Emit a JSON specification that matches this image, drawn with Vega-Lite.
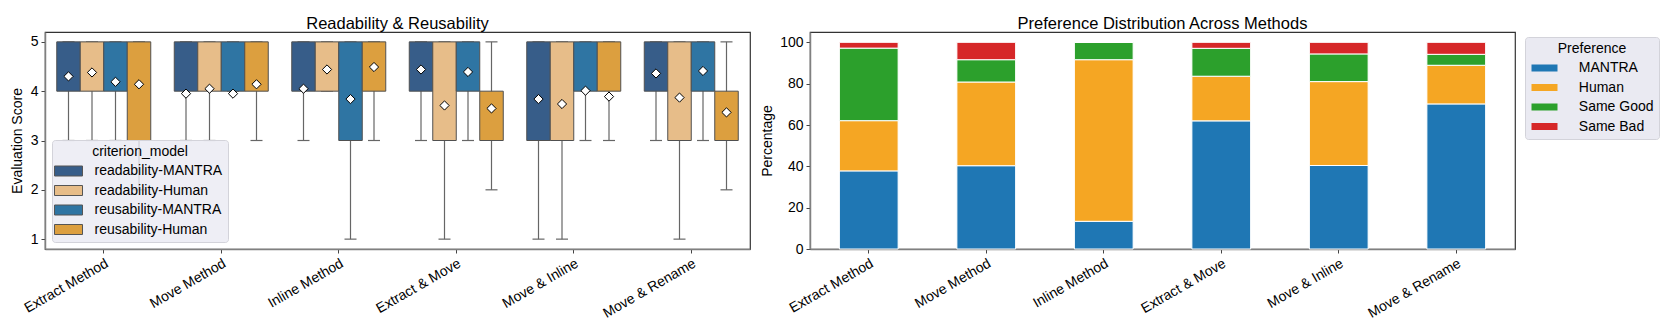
{
  "$schema": "https://vega.github.io/schema/vega-lite/v6.json",
  "padding": {"left": 9, "top": 15, "right": 0, "bottom": 0},
  "spacing": 9,
  "resolve": {"scale": {"color": "independent"}, "legend": {"color": "independent"}},
  "config": {
    "font": "Liberation Sans",
    "view": {"stroke": "#333333", "strokeWidth": 1.2},
    "axis": {
      "labelFontSize": 14, "titleFontSize": 14, "labelColor": "black", "titleColor": "black",
      "titleFontWeight": "normal", "domainColor": "#808080", "domainWidth": 1.5,
      "tickColor": "#444444", "tickSize": 4, "grid": false, "labelPadding": 3, "titlePadding": 6
    },
    "title": {"fontSize": 16.5, "fontWeight": "normal", "offset": -0.5, "color": "black"},
    "legend": {
      "titleFontSize": 14, "labelFontSize": 14, "titleFontWeight": "normal", "titleColor": "black",
      "labelColor": "black", "titleAnchor": "middle", "padding": 5, "cornerRadius": 3,
      "strokeColor": "#d3d3da", "rowPadding": 5.5
    }
  },
  "datasets": {
    "boxes": [
      {"method": "Extract Method", "group": "readability-MANTRA", "lower": 3, "q1": 4, "q3": 5, "upper": 5, "mean": 4.30},
      {"method": "Extract Method", "group": "readability-Human", "lower": 3, "q1": 4, "q3": 5, "upper": 5, "mean": 4.38},
      {"method": "Extract Method", "group": "reusability-MANTRA", "lower": 3, "q1": 4, "q3": 5, "upper": 5, "mean": 4.19},
      {"method": "Extract Method", "group": "reusability-Human", "lower": 2, "q1": 3, "q3": 5, "upper": 5, "mean": 4.14},
      {"method": "Move Method", "group": "readability-MANTRA", "lower": 3, "q1": 4, "q3": 5, "upper": 5, "mean": 3.95},
      {"method": "Move Method", "group": "readability-Human", "lower": 3, "q1": 4, "q3": 5, "upper": 5, "mean": 4.05},
      {"method": "Move Method", "group": "reusability-MANTRA", "lower": 4, "q1": 4, "q3": 5, "upper": 5, "mean": 3.95},
      {"method": "Move Method", "group": "reusability-Human", "lower": 3, "q1": 4, "q3": 5, "upper": 5, "mean": 4.14},
      {"method": "Inline Method", "group": "readability-MANTRA", "lower": 3, "q1": 4, "q3": 5, "upper": 5, "mean": 4.05},
      {"method": "Inline Method", "group": "readability-Human", "lower": 4, "q1": 4, "q3": 5, "upper": 5, "mean": 4.44},
      {"method": "Inline Method", "group": "reusability-MANTRA", "lower": 1, "q1": 3, "q3": 5, "upper": 5, "mean": 3.84},
      {"method": "Inline Method", "group": "reusability-Human", "lower": 3, "q1": 4, "q3": 5, "upper": 5, "mean": 4.49},
      {"method": "Extract & Move", "group": "readability-MANTRA", "lower": 3, "q1": 4, "q3": 5, "upper": 5, "mean": 4.44},
      {"method": "Extract & Move", "group": "readability-Human", "lower": 1, "q1": 3, "q3": 5, "upper": 5, "mean": 3.71},
      {"method": "Extract & Move", "group": "reusability-MANTRA", "lower": 3, "q1": 4, "q3": 5, "upper": 5, "mean": 4.39},
      {"method": "Extract & Move", "group": "reusability-Human", "lower": 2, "q1": 3, "q3": 4, "upper": 5, "mean": 3.65},
      {"method": "Move & Inline", "group": "readability-MANTRA", "lower": 1, "q1": 3, "q3": 5, "upper": 5, "mean": 3.84},
      {"method": "Move & Inline", "group": "readability-Human", "lower": 1, "q1": 3, "q3": 5, "upper": 5, "mean": 3.74},
      {"method": "Move & Inline", "group": "reusability-MANTRA", "lower": 3, "q1": 4, "q3": 5, "upper": 5, "mean": 4.01},
      {"method": "Move & Inline", "group": "reusability-Human", "lower": 3, "q1": 4, "q3": 5, "upper": 5, "mean": 3.89},
      {"method": "Move & Rename", "group": "readability-MANTRA", "lower": 3, "q1": 4, "q3": 5, "upper": 5, "mean": 4.36},
      {"method": "Move & Rename", "group": "readability-Human", "lower": 1, "q1": 3, "q3": 5, "upper": 5, "mean": 3.87},
      {"method": "Move & Rename", "group": "reusability-MANTRA", "lower": 3, "q1": 4, "q3": 5, "upper": 5, "mean": 4.41},
      {"method": "Move & Rename", "group": "reusability-Human", "lower": 2, "q1": 3, "q3": 4, "upper": 5, "mean": 3.57}
    ],
    "prefs": [
      {"method": "Extract Method", "pref": "MANTRA", "pct": 37.8},
      {"method": "Extract Method", "pref": "Human", "pct": 24.3},
      {"method": "Extract Method", "pref": "Same Good", "pct": 35.1},
      {"method": "Extract Method", "pref": "Same Bad", "pct": 2.8},
      {"method": "Move Method", "pref": "MANTRA", "pct": 40.3},
      {"method": "Move Method", "pref": "Human", "pct": 40.5},
      {"method": "Move Method", "pref": "Same Good", "pct": 10.8},
      {"method": "Move Method", "pref": "Same Bad", "pct": 8.4},
      {"method": "Inline Method", "pref": "MANTRA", "pct": 13.4},
      {"method": "Inline Method", "pref": "Human", "pct": 78.2},
      {"method": "Inline Method", "pref": "Same Good", "pct": 8.4},
      {"method": "Inline Method", "pref": "Same Bad", "pct": 0},
      {"method": "Extract & Move", "pref": "MANTRA", "pct": 62.0},
      {"method": "Extract & Move", "pref": "Human", "pct": 21.6},
      {"method": "Extract & Move", "pref": "Same Good", "pct": 13.5},
      {"method": "Extract & Move", "pref": "Same Bad", "pct": 2.9},
      {"method": "Move & Inline", "pref": "MANTRA", "pct": 40.4},
      {"method": "Move & Inline", "pref": "Human", "pct": 40.6},
      {"method": "Move & Inline", "pref": "Same Good", "pct": 13.4},
      {"method": "Move & Inline", "pref": "Same Bad", "pct": 5.6},
      {"method": "Move & Rename", "pref": "MANTRA", "pct": 70.2},
      {"method": "Move & Rename", "pref": "Human", "pct": 18.7},
      {"method": "Move & Rename", "pref": "Same Good", "pct": 5.3},
      {"method": "Move & Rename", "pref": "Same Bad", "pct": 5.8}
    ]
  },
  "hconcat": [
    {
      "width": 705,
      "height": 217,
      "title": "Readability & Reusability",
      "data": {"name": "boxes"},
      "encoding": {
        "x": {
          "field": "method", "type": "nominal",
          "sort": ["Extract Method", "Move Method", "Inline Method", "Extract & Move", "Move & Inline", "Move & Rename"],
          "scale": {"paddingInner": 0.2, "paddingOuter": 0.1},
          "axis": {"title": null, "labelAngle": -30, "labelAlign": "right", "labelBaseline": "top"}
        },
        "xOffset": {
          "field": "group", "type": "nominal",
          "sort": ["readability-MANTRA", "readability-Human", "reusability-MANTRA", "reusability-Human"],
          "scale": {"paddingInner": 0, "paddingOuter": 0}
        }
      },
      "layer": [
        {
          "mark": {"type": "rule", "color": "#666666", "strokeWidth": 1.2},
          "encoding": {
            "y": {"field": "lower", "type": "quantitative",
                  "scale": {"domain": [0.8, 5.2], "nice": false, "zero": false},
                  "axis": {"title": "Evaluation Score", "titleFontSize": 14, "values": [1, 2, 3, 4, 5]}},
            "y2": {"field": "upper"}
          }
        },
        {
          "mark": {"type": "tick", "color": "#666666", "size": 12, "thickness": 1.2, "opacity": 1},
          "encoding": {"y": {"field": "lower", "type": "quantitative"}}
        },
        {
          "mark": {"type": "tick", "color": "#666666", "size": 12, "thickness": 1.2, "opacity": 1},
          "encoding": {"y": {"field": "upper", "type": "quantitative"}}
        },
        {
          "mark": {"type": "bar", "stroke": "#505050", "strokeWidth": 1, "opacity": 1},
          "encoding": {
            "y": {"field": "q1", "type": "quantitative"},
            "y2": {"field": "q3"},
            "color": {
              "field": "group", "type": "nominal",
              "sort": ["readability-MANTRA", "readability-Human", "reusability-MANTRA", "reusability-Human"],
              "scale": {"domain": ["readability-MANTRA", "readability-Human", "reusability-MANTRA", "reusability-Human"],
                        "range": ["#375d89", "#e7bd89", "#2f75a3", "#dc9f3f"]},
              "legend": {
                "title": "criterion_model", "orient": "none", "legendX": 7, "legendY": 108,
                "fillColor": "rgba(234,234,242,0.8)",
                "symbolType": "M-2.8,-1h5.6v2h-5.6z", "symbolSize": 100,
                "symbolStrokeColor": "#555555", "symbolStrokeWidth": 1,
                "symbolOffset": 4.5, "labelOffset": 19
              }
            }
          }
        },
        {
          "mark": {"type": "point", "shape": "diamond", "filled": true, "fill": "white", "stroke": "black", "strokeWidth": 1, "size": 85, "opacity": 1},
          "encoding": {"y": {"field": "mean", "type": "quantitative"}}
        }
      ]
    },
    {
      "width": 705,
      "height": 217,
      "title": "Preference Distribution Across Methods",
      "data": {"name": "prefs"},
      "transform": [
        {"calculate": "indexof(['MANTRA', 'Human', 'Same Good', 'Same Bad'], datum.pref)", "as": "stackOrder"}
      ],
      "mark": {"type": "bar", "stroke": "white", "strokeWidth": 1},
      "encoding": {
        "x": {
          "field": "method", "type": "nominal",
          "sort": ["Extract Method", "Move Method", "Inline Method", "Extract & Move", "Move & Inline", "Move & Rename"],
          "scale": {"paddingInner": 0.5, "paddingOuter": 0.25},
          "axis": {"title": null, "labelAngle": -30, "labelAlign": "right", "labelBaseline": "top"}
        },
        "y": {
          "field": "pct", "type": "quantitative", "stack": "zero",
          "scale": {"domain": [0, 105], "nice": false},
          "axis": {"title": "Percentage", "values": [0, 20, 40, 60, 80, 100], "titlePadding": 5}
        },
        "order": {"field": "stackOrder", "type": "quantitative", "sort": "ascending"},
        "color": {
          "field": "pref", "type": "nominal",
          "sort": ["MANTRA", "Human", "Same Good", "Same Bad"],
          "scale": {"domain": ["MANTRA", "Human", "Same Good", "Same Bad"],
                    "range": ["#1f77b4", "#f5a623", "#2ca02c", "#d62728"]},
          "legend": {
            "title": "Preference", "orient": "none", "legendX": 715, "legendY": 5,
            "fillColor": "#eaeaf2",
            "symbolType": "M-2.6,-0.7h5.2v1.4h-5.2z", "symbolSize": 100,
            "symbolStrokeWidth": 0,
            "symbolOffset": 7.5, "labelOffset": 27.3
          }
        }
      }
    }
  ]
}
